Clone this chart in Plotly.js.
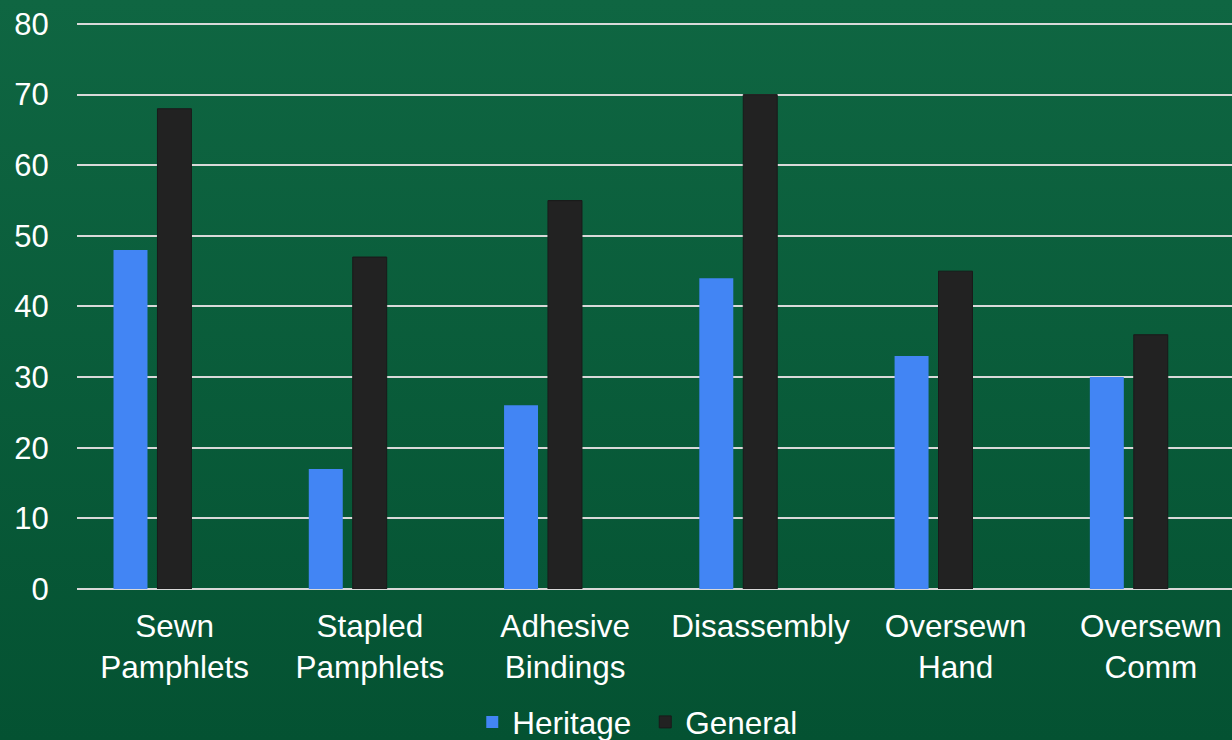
<!DOCTYPE html>
<html>
<head>
<meta charset="utf-8">
<script src="https://cdn.plot.ly/plotly-3.0.1.min.js"></script>
<style>
html,body{margin:0;padding:0;}
#chart{width:1232px;height:740px;background:linear-gradient(to bottom,#0f6642 0%,#045232 100%);}
</style>
</head>
<body>
<div id="chart"></div>
<script>
var categories = ["Sewn<br>Pamphlets","Stapled<br>Pamphlets","Adhesive<br>Bindings","Disassembly","Oversewn<br>Hand","Oversewn<br>Comm"];
var heritage = [48,17,26,44,33,30];
var general = [68,47,55,70,45,36];
var yTicks = [0,10,20,30,40,50,60,70,80];

var fontX = {family:"Liberation Sans, Arial, sans-serif", color:"#ffffff", size:31.5};
var fontY = {family:"Liberation Sans, Arial, sans-serif", color:"#ffffff", size:31};

var data = [
  {type:"bar", name:"Heritage", x:categories, y:heritage, marker:{color:"#4285f4"}, width:0.174, offset:-0.313},
  {type:"bar", name:"General", x:categories, y:general, marker:{color:"#222222", line:{color:"#1a1a1a",width:1}}, width:0.174, offset:-0.088}
];

var layout = {
  width:1232, height:740,
  paper_bgcolor:"rgba(0,0,0,0)", plot_bgcolor:"rgba(0,0,0,0)",
  margin:{l:77, r:0, t:21, b:151, autoexpand:false},
  font:fontX,
  showlegend:true,
  legend:{orientation:"h", x:0.492, xanchor:"center", y:-0.234, yanchor:"middle", font:fontX, bgcolor:"rgba(0,0,0,0)", itemwidth:30, entrywidth:128, traceorder:"normal"},
  xaxis:{type:"category", automargin:false, range:[-0.5,5.415], showgrid:false, zeroline:false, showline:false, ticks:"outside", ticklen:9, tickcolor:"rgba(0,0,0,0)", tickfont:fontX, fixedrange:true},
  yaxis:{automargin:false, range:[0,80.42], tickvals:yTicks, showgrid:true, gridcolor:"#d9d9d9", gridwidth:2, zeroline:true, zerolinecolor:"#d9d9d9", zerolinewidth:2, showline:false, ticks:"outside", ticklen:21, tickcolor:"rgba(0,0,0,0)", tickfont:fontY, fixedrange:true}
};

Plotly.newPlot("chart", data, layout, {displayModeBar:false, staticPlot:true});
</script>
</body>
</html>
